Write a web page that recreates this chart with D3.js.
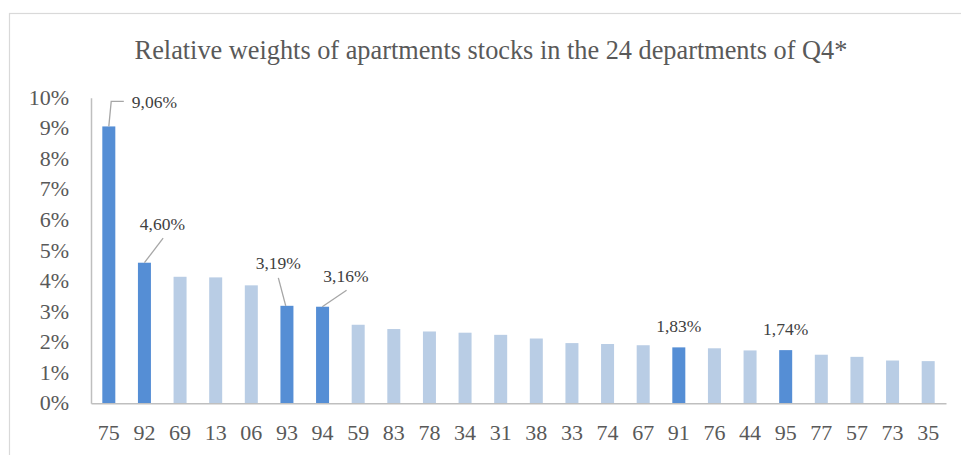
<!DOCTYPE html>
<html>
<head>
<meta charset="utf-8">
<script src="https://cdn.jsdelivr.net/npm/d3@7"></script>
<style>
  html, body { margin: 0; padding: 0; background: #fff; }
  svg { display: block; }
  svg text { font-family: "Liberation Serif", "Times New Roman", serif !important; }
</style>
</head>
<body>
<svg id="chart" width="961" height="455"></svg>
<script>
// ---- data ----
const departments = ["75","92","69","13","06","93","94","59","83","78","34","31","38","33","74","67","91","76","44","95","77","57","73","35"];
const weights = [9.06,4.60,4.14,4.12,3.86,3.19,3.16,2.57,2.43,2.35,2.31,2.24,2.12,1.97,1.94,1.90,1.83,1.80,1.73,1.74,1.59,1.52,1.40,1.38];
const highlighted = ["75","92","93","94","91","95"];
const yTicks = [0,1,2,3,4,5,6,7,8,9,10];
const titleText = "Relative weights of apartments stocks in the 24 departments of Q4*";

// label placement (offsets from bar top centre, pixels) – layout only
const labelLayout = [
  {dept:"75", tx:23, ty:-18, anchor:"start", leader:[[0,0],[2.4,-25],[15,-25]]},
  {dept:"92", tx:18, ty:-33, anchor:"middle", leader:[[0,0],[18.7,-24.6]]},
  {dept:"93", tx:-8.6, ty:-36.5, anchor:"middle", leader:[[-1.2,0],[-8.6,-28]]},
  {dept:"94", tx:23.4, ty:-25, anchor:"middle", leader:[[-0.3,0],[24,-16.5]]},
  {dept:"91", tx:0, ty:-15, anchor:"middle", leader:null},
  {dept:"95", tx:0, ty:-15, anchor:"middle", leader:null}
];

const fmt = v => v.toFixed(2).replace(".", ",") + "%";
const FONT = "'Liberation Serif', 'Times New Roman', serif";

const svg = d3.select("#chart");
const plot = {left: 91, right: 946, top: 97.7, bottom: 403.3};

// chart border (only left/top visible)
svg.append("rect")
  .attr("x", 9.5).attr("y", 13.5)
  .attr("width", 1000).attr("height", 500)
  .attr("fill", "none").attr("stroke", "#d9d9d9").attr("stroke-width", 1.2);

// title
svg.append("text")
  .attr("x", 491).attr("y", 58.5)
  .attr("text-anchor", "middle")
  .attr("font-family", FONT)
  .attr("font-size", 26.3)
  .attr("fill", "#595959")
  .text(titleText);

const x = d3.scaleBand()
  .domain(departments)
  .range([plot.left, plot.right])
  .paddingInner(0.635)
  .paddingOuter(0.3175);

const y = d3.scaleLinear().domain([0, 10]).range([plot.bottom, plot.top]);

const data = departments.map((d, i) => ({dept: d, value: weights[i]}));

// bars
svg.append("g").selectAll("rect")
  .data(data)
  .join("rect")
  .attr("x", d => x(d.dept))
  .attr("width", x.bandwidth())
  .attr("y", d => y(d.value))
  .attr("height", d => y(0) - y(d.value))
  .attr("fill", d => highlighted.includes(d.dept) ? "#558ed5" : "#b9cde5");

// y axis
const yAxis = svg.append("g")
  .attr("transform", `translate(${plot.left},0)`)
  .call(d3.axisLeft(y).tickValues(yTicks).tickFormat(d => d + "%").tickSize(0).tickPadding(22))
  .attr("font-family", FONT)
  .attr("font-size", 22);
yAxis.select(".domain").attr("stroke", "#bfbfbf").attr("stroke-width", 1.5);
yAxis.selectAll("text")
  .attr("fill", "#595959")
  .attr("dy", "0.3em");

// x axis
const xAxis = svg.append("g")
  .attr("transform", `translate(0,${plot.bottom})`)
  .call(d3.axisBottom(x).tickSize(0).tickPadding(21))
  .attr("font-family", FONT)
  .attr("font-size", 22);
xAxis.select(".domain").attr("stroke", "#bfbfbf").attr("stroke-width", 1.5);
xAxis.selectAll("text")
  .attr("fill", "#595959");

// data labels
const ann = svg.append("g");
labelLayout.forEach(l => {
  const v = weights[departments.indexOf(l.dept)];
  const cx = x(l.dept) + x.bandwidth() / 2;
  const cy = y(v);
  if (l.leader) {
    ann.append("path")
      .attr("d", d3.line()(l.leader.map(p => [cx + p[0], cy + p[1]])))
      .attr("fill", "none")
      .attr("stroke", "#a6a6a6")
      .attr("stroke-width", 1.3);
  }
  ann.append("text")
    .attr("x", cx + l.tx).attr("y", cy + l.ty)
    .attr("text-anchor", l.anchor)
    .attr("font-family", FONT)
    .attr("font-size", 17.5)
    .attr("fill", "#404040")
    .text(fmt(v));
});
</script>
</body>
</html>
